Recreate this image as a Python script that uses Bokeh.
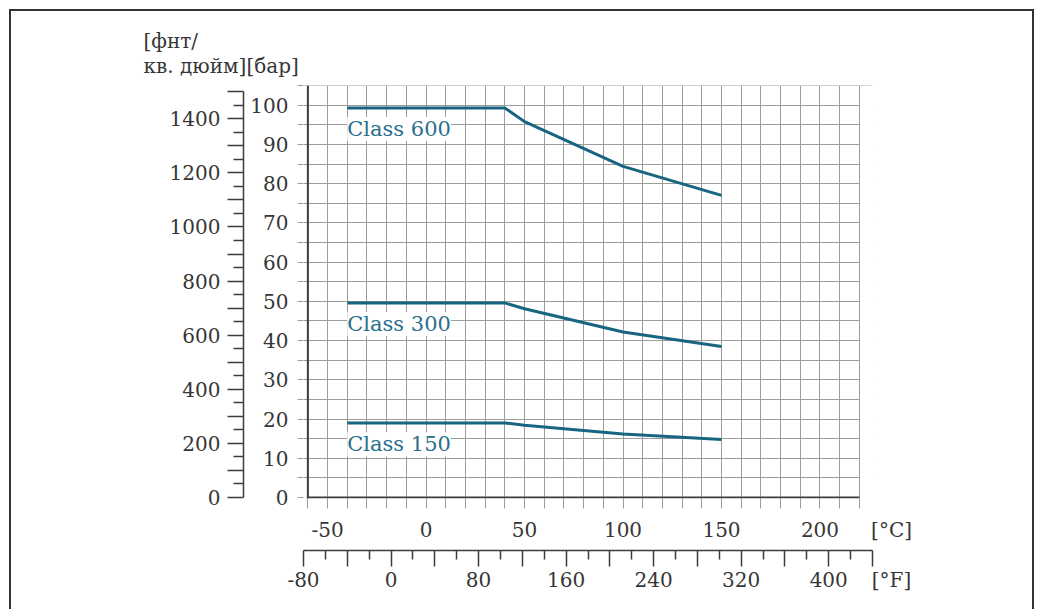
from bokeh.plotting import figure
from bokeh.models import Range1d, LinearAxis, FixedTicker, Span, BoxAnnotation, Label, Title
from bokeh.embed import file_html
from bokeh.resources import INLINE

# ---------------- data ----------------
temps_c = [-40, 40, 50, 100, 150]
class_150 = [19.0, 19.0, 18.4, 16.2, 14.8]
class_300 = [49.6, 49.6, 48.1, 42.2, 38.5]
class_600 = [99.3, 99.3, 95.8, 84.4, 77.0]
class_names = ["Class 150", "Class 300", "Class 600"]

c_ticks = [-50, 0, 50, 100, 150, 200]
c_all = list(range(-60, 221, 10))
bar_ticks = list(range(0, 101, 10))
bar_all = list(range(0, 106, 5))
psi_ticks = list(range(0, 1501, 100))
psi_all = list(range(0, 1501, 50))
psi_labels = list(range(0, 1401, 200))
f_ticks = list(range(-80, 441, 40))
f_all = list(range(-80, 441, 20))
f_labels = list(range(-80, 401, 80))

unit_psi_bar = "[фнт/\nкв. дюйм][бар]"
unit_c = "[°C]"
unit_f = "[°F]"

C_MIN, C_MAX = -60, 220
F_MIN, F_MAX = -80, 440
Y_MAX = 105
PSI_PER_BAR = 14.5038

FONT = "DejaVu Serif"
TXT = "#363636"
GRID = "#9c9c9c"
DARK = "#3c3c3c"
LINE = "#176581"
LTXT = "#296f8c"
PAD = "\u00a0" * 6

x0 = (F_MIN - 32) / 1.8
x1 = (F_MAX - 32) / 1.8
ybot = -0.25
ytop = Y_MAX + 0.01

p = figure(width=1025, height=600, title=None,
           x_range=Range1d(x0, x1), y_range=Range1d(ybot, ytop),
           output_backend="svg", toolbar_location=None,
           min_border_left=292, min_border_right=164,
           min_border_top=74, min_border_bottom=113)
p.outline_line_color = None
p.background_fill_color = "white"
p.border_fill_color = "white"
p.styles = {"margin-left": "9px", "margin-top": "9px",
            "border-left": "2px solid #333333",
            "border-top": "2px solid #333333",
            "border-right": "2px solid #333333"}

p.extra_y_ranges = {"psi": Range1d(ybot * PSI_PER_BAR, ytop * PSI_PER_BAR)}
p.extra_x_ranges = {"F": Range1d(F_MIN, F_MAX)}

# grid
p.xgrid.ticker = FixedTicker(ticks=c_all)
p.ygrid.ticker = FixedTicker(ticks=bar_all[1:])
for g in (p.xgrid, p.ygrid):
    g.grid_line_color = GRID
    g.grid_line_width = 1

# cover grid overhang on the right of 220 C
p.add_layout(BoxAnnotation(left=C_MAX + 0.35, fill_color="white", fill_alpha=1,
                           line_color=None))
# bottom frame line (from -60 to 220 C)
p.add_layout(BoxAnnotation(left=C_MIN - 0.5, right=C_MAX, bottom=ybot, top=0.26,
                           fill_color=DARK, fill_alpha=1, line_color=None))

# bottom (C) axis
xa = p.xaxis[0]
xa.ticker = FixedTicker(ticks=c_ticks + [x1], minor_ticks=c_all)
xa.axis_line_color = None
xa.major_tick_out = 0
xa.major_tick_in = 0
xa.minor_tick_out = 10
xa.minor_tick_in = 0
xa.minor_tick_line_color = GRID
xa.major_label_standoff = 9
c_over = {t: str(t) for t in c_ticks if t < 0}
c_over[x1] = PAD + unit_c
xa.major_label_overrides = c_over
xa.axis_label = "."
xa.axis_label_text_font_size = "1px"
xa.axis_label_text_alpha = 0
xa.axis_label_standoff = 2

# left (bar) axis
ya = p.yaxis[0]
ya.ticker = FixedTicker(ticks=bar_ticks, minor_ticks=[t for t in bar_all if t not in bar_ticks])
ya.axis_line_color = None
ya.major_tick_out = 6
ya.minor_tick_out = 6
ya.major_tick_in = 0
ya.minor_tick_in = 0
ya.major_tick_line_color = GRID
ya.minor_tick_line_color = GRID
ya.major_label_standoff = 9
ya.axis_label = "."
ya.axis_label_text_font_size = "1px"
ya.axis_label_text_alpha = 0
ya.axis_label_standoff = 0

# psi axis
psi_over = {t: "" for t in psi_ticks if t not in psi_labels}
pa = LinearAxis(y_range_name="psi",
                ticker=FixedTicker(ticks=psi_ticks, minor_ticks=[t for t in psi_all if t not in psi_ticks]),
                bounds=(0, 1500), major_label_overrides=psi_over)
pa.axis_line_color = DARK
pa.axis_line_width = 1.5
pa.major_tick_out = 16
pa.minor_tick_out = 10
pa.major_tick_in = 0
pa.minor_tick_in = 0
pa.major_tick_line_color = DARK
pa.minor_tick_line_color = DARK
pa.major_tick_line_width = 1.5
pa.minor_tick_line_width = 1.5
pa.major_label_standoff = 7
p.add_layout(pa, "left")

# F axis
f_over = {t: "" for t in f_ticks if t not in f_labels}
for t in f_labels:
    if t < 0:
        f_over[t] = str(t)
f_over[F_MAX] = PAD + unit_f
fa = LinearAxis(x_range_name="F",
                ticker=FixedTicker(ticks=f_ticks, minor_ticks=[t for t in f_all if t not in f_ticks]),
                bounds=(F_MIN, F_MAX), major_label_overrides=f_over)
fa.axis_line_color = DARK
fa.axis_line_width = 1.5
fa.major_tick_out = 16
fa.minor_tick_out = 9
fa.major_tick_in = 0
fa.minor_tick_in = 0
fa.major_tick_line_color = DARK
fa.minor_tick_line_color = DARK
fa.major_tick_line_width = 1.5
fa.minor_tick_line_width = 1.5
fa.major_label_standoff = 1
p.add_layout(fa, "below")

for ax in (xa, ya, pa, fa):
    ax.major_label_text_font = FONT
    ax.major_label_text_font_size = "20px"
    ax.major_label_text_color = TXT

# unit title above the left axes
p.add_layout(Title(text=unit_psi_bar, align="left", offset=-160, standoff=15,
                   text_font=FONT, text_font_size="20px", text_font_style="normal",
                   text_color=TXT, text_line_height=1.03), "above")

# left frame line
p.add_layout(Span(location=C_MIN, dimension="height", line_color=DARK, line_width=2))

# curves and labels
for name, vals in zip(class_names, [class_150, class_300, class_600]):
    p.line(temps_c, vals, line_color=LINE, line_width=3)
    p.add_layout(Label(x=temps_c[0], y=vals[0] - 5.4, text=name,
                       text_font=FONT, text_font_size="21px", text_color=LTXT,
                       text_baseline="middle", text_align="left",
                       background_fill_color="white", background_fill_alpha=1))

open("out.html", "w").write(file_html(p, INLINE))
